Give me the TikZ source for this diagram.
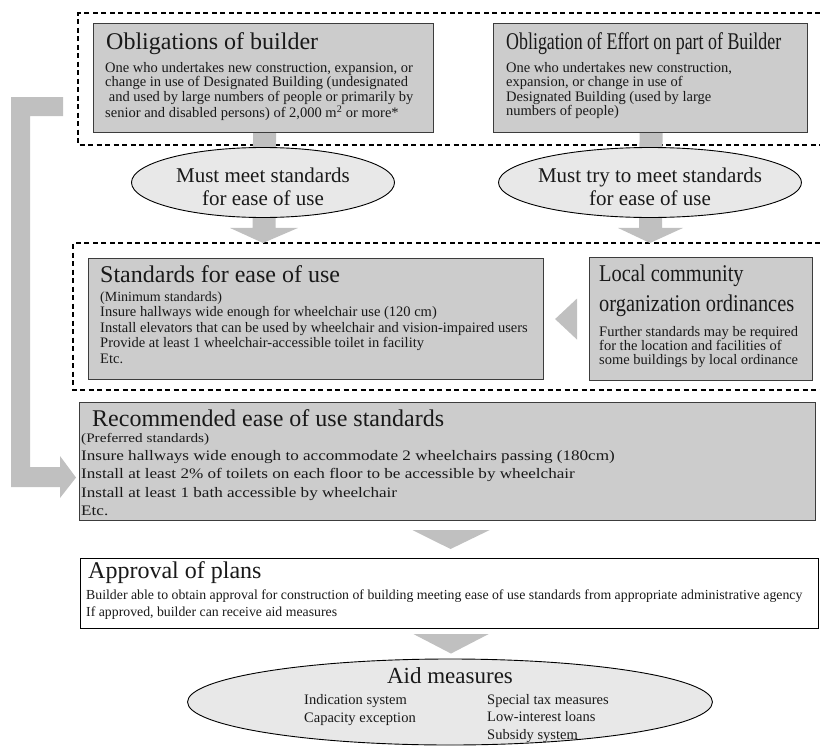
\documentclass[tikz,border=0pt]{standalone}
\usepackage{fontspec}
\usepackage{graphicx}
\setmainfont{Liberation Serif}
\usetikzlibrary{shapes.geometric,calc,backgrounds}
\definecolor{boxgray}{RGB}{204,204,204}
\definecolor{boxline}{RGB}{60,60,60}
\definecolor{ovalgray}{RGB}{232,232,232}
\definecolor{arrowgray}{RGB}{192,192,192}
\definecolor{textc}{RGB}{25,25,25}
\newcommand\mylines[1]{\begin{tabular}[t]{@{}l@{}}#1\end{tabular}}
\newcommand\mylinesc[1]{\begin{tabular}[t]{@{}c@{}}#1\end{tabular}}
\newcommand\fs[2]{\fontsize{#1}{#2}\selectfont}
\begin{document}
\begin{tikzpicture}[x=1pt,y=-1pt,
  box/.style={draw=boxline, fill=boxgray, line width=1.1pt, inner sep=0, anchor=north west},
  wbox/.style={draw=black, fill=white, line width=1.1pt, inner sep=0, anchor=north west},
  dframe/.style={draw=black, dash pattern=on 5pt off 3.5pt, line width=1.3pt},
  oval/.style={ellipse, draw=black, fill=ovalgray, line width=0.9pt, inner sep=0},
  txt/.style={inner sep=0, anchor=base west, text=textc},
  ctxt/.style={inner sep=0, anchor=base, text=textc},
  conn/.style={fill=arrowgray, draw=none}]
\useasboundingbox (0,0) rectangle (820,747);

% ---- top boxes
\node[box, minimum width=340pt, minimum height=109pt] (ob) at (93,23) {};
\node[txt, font=\fs{24}{24}] (ob-t) at (106,49) {Obligations of builder};
\node[txt, font=\fs{14.5}{14}] (ob-b) at (105,72.5) {\mylines{One who undertakes new construction, expansion, or\\change in use of Designated Building (undesignated\\\ and used by large numbers of people or primarily by\\senior and disabled persons) of 2,000 m\textsuperscript{2} or more*}};

\node[box, minimum width=314pt, minimum height=109pt] (ef) at (493,23) {};
\node[txt, font=\fs{24}{24}] (ef-t) at (506,49) {\resizebox{275pt}{\height}{Obligation of Effort on part of Builder}};
\node[txt, font=\fs{14.5}{14}] (ef-b) at (506,72.5) {\mylines{One who undertakes new construction,\\expansion, or change in use of\\Designated Building (used by large\\numbers of people)}};

% ---- ovals
\node[oval, minimum width=263pt, minimum height=70pt] (me) at (263,182.5) {};
\node[ctxt, font=\fs{21}{23}] (me-t) at (263,182) {\mylinesc{Must meet standards\\for ease of use}};
\node[oval, minimum width=303pt, minimum height=70pt] (mt) at (650,182.5) {};
\node[ctxt, font=\fs{21}{23}] (mt-t) at (650,182) {\mylinesc{Must try to meet standards\\for ease of use}};

% ---- middle boxes
\node[box, minimum width=455pt, minimum height=121pt] (sb) at (88,258) {};
\node[txt, font=\fs{24}{24}] (sb-t) at (100,282) {Standards for ease of use};
\node[txt, font=\fs{14}{14}] (sb-s) at (100,301.7) {(Minimum standards)};
\node[txt, font=\fs{14.5}{15.5}] (sb-b) at (100,316.7) {\mylines{Insure hallways wide enough for wheelchair use (120 cm)\\Install elevators that can be used by wheelchair and vision-impaired users\\Provide at least 1 wheelchair-accessible toilet in facility\\Etc.}};

\node[box, minimum width=223pt, minimum height=123pt] (lb) at (589,257) {};
\node[txt, font=\fs{24}{30}] (lb-t) at (599,281.7) {\mylines{\scalebox{0.85}[1]{Local community}\\\scalebox{0.85}[1]{organization ordinances}}};
\node[txt, font=\fs{14.5}{14.2}] (lb-b) at (599,336) {\mylines{Further standards may be required\\for the location and facilities of\\some buildings by local ordinance}};

% ---- recommended
\node[box, minimum width=736pt, minimum height=118pt] (rb) at (79,402) {};
\node[txt, font=\fs{24}{24}] (rb-t) at (92,426) {Recommended ease of use standards};
\node[txt, font=\fs{13}{13}] (rb-s) at (81,442) {\scalebox{1.17}[1]{(Preferred standards)}};
\node[txt, font=\fs{14.5}{18.5}] (rb-b) at (81,460) {\scalebox{1.18}[1]{\mylines{Insure hallways wide enough to accommodate 2 wheelchairs passing (180cm)\\Install at least 2\% of toilets on each floor to be accessible by wheelchair\\Install at least 1 bath accessible by wheelchair\\Etc.}}};

% ---- approval
\node[wbox, minimum width=738pt, minimum height=70pt] (ab) at (80,558) {};
\node[txt, font=\fs{24}{24}] (ab-t) at (88,578.5) {Approval of plans};
\node[txt, font=\fs{13.8}{17}] (ab-b) at (86,599) {\mylines{Builder able to obtain approval for construction of building meeting ease of use standards from appropriate administrative agency\\If approved, builder can receive aid measures}};

% ---- aid
\node[oval, minimum width=525pt, minimum height=86pt] (ae) at (450,702) {};
\node[ctxt, font=\fs{23}{23}] (ae-t) at (450,683) {Aid measures};
\node[txt, font=\fs{14.5}{18}] (ae-l) at (304,704) {\mylines{Indication system\\Capacity exception}};
\node[txt, font=\fs{14.5}{17.5}] (ae-r) at (487,704) {\mylines{Special tax measures\\Low-interest loans\\Subsidy system}};

% ---- arrows in the main layer
\fill[conn] ($(lb.west)+(-12,-20.5)$) -- ($(lb.west)+(-12,20.5)$) -- ($(sb.east)+(11,0)$) -- cycle;
\fill[conn] ($(rb.south)+(-35,9)$) -- ($(rb.south)+(42,9)$) -- ($(ab.north)+(1,-9)$) -- cycle;
\fill[conn] ($(ab.south)+(-36,5)$) -- ($(ab.south)+(39,5)$) -- ($(ae.north)+(1,-5)$) -- cycle;

\coordinate (Ls) at (63,106.5);
\coordinate (Lt) at ($(rb.west)+(-3,16)$);
\fill[conn] (Ls) ++(0,-9.5) -- ++(-52,0) -- (11,487) -- (60,487) -- (60,498) -- (Lt) -- (60,456) -- (60,467) -- (30,467) -- (30,116) -- (63,116) -- cycle;

\begin{scope}[on background layer]
% dashed group frames (their right side runs off the picture)
\draw[dframe] (820,13) -| (78,145) -- (820,145);
\draw[dframe] (820,243) -| (73,390) -- (820,390);
\coordinate (d2n) at (450,243);
\fill[conn] ($(ob.south)+(-10.5,0)$) -- ($(ob.south)+(12.5,0)$) -- ($(me.south)+(12.5,10)$) -- ($(me.south)+(35,10)$) -- (me.south |- d2n) -- ($(me.south)+(-33,10)$) -- ($(me.south)+(-10.5,10)$) -- cycle;
\fill[conn] ($(ef.south)+(-11,0)$) -- ($(ef.south)+(12,0)$) -- ($(mt.south)+(12,10)$) -- ($(mt.south)+(33,10)$) -- (mt.south |- d2n) -- ($(mt.south)+(-32,10)$) -- ($(mt.south)+(-11,10)$) -- cycle;
\end{scope}
\end{tikzpicture}
\end{document}
